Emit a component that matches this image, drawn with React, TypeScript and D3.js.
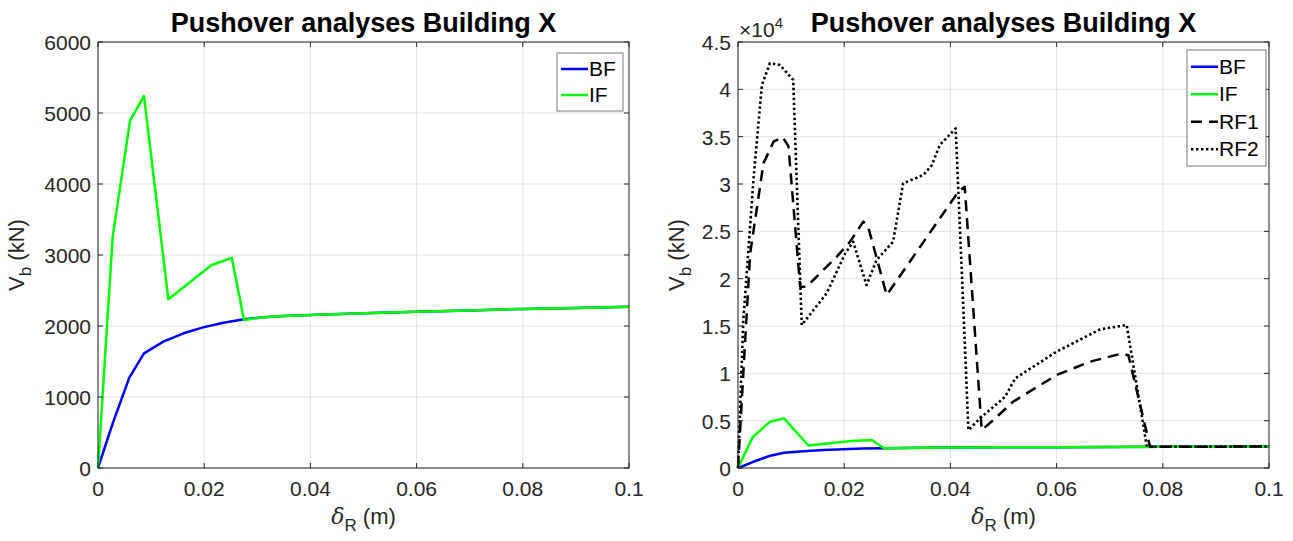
import React from "react";
import * as d3 from "d3";

// ---------- data ----------
const bfDelta = [0, 0.00277, 0.0059, 0.00866, 0.0123, 0.0161, 0.0198, 0.0236, 0.0275, 0.0311, 0.0349, 0.04, 0.05, 0.06, 0.07, 0.08, 0.09, 0.1];
const bfV = [0, 629, 1272, 1615, 1779, 1897, 1981, 2047, 2094, 2122, 2141, 2155, 2180, 2200, 2220, 2240, 2255, 2270];

const ifDelta = [0, 0.00277, 0.00603, 0.00866, 0.01325, 0.0214, 0.0252, 0.0275, 0.0311, 0.0349, 0.04, 0.05, 0.06, 0.07, 0.08, 0.09, 0.1];
const ifV = [0, 3258, 4892, 5239, 2376, 2859, 2958, 2085, 2122, 2141, 2155, 2180, 2200, 2220, 2240, 2255, 2270];

const rf1Delta = [0, 0.0012, 0.0023, 0.0048, 0.0067, 0.0084, 0.0095, 0.0117, 0.0129, 0.0186, 0.0211, 0.0236, 0.0245, 0.028, 0.0415, 0.0427, 0.0459, 0.0481, 0.0518, 0.06, 0.0663, 0.0719, 0.0735, 0.0776, 0.08, 0.09, 0.1];
const rf1V = [0, 12000, 22700, 32190, 34470, 34950, 34000, 19150, 19150, 22320, 23900, 26020, 25500, 18270, 29190, 29710, 4010, 5070, 7000, 9820, 11230, 12040, 11940, 2250, 2240, 2255, 2270];

const rf2Delta = [0, 0.001, 0.0016, 0.0029, 0.0045, 0.006, 0.0079, 0.0104, 0.012, 0.0167, 0.0202, 0.0217, 0.0242, 0.0261, 0.0292, 0.0311, 0.0349, 0.0365, 0.038, 0.041, 0.0434, 0.0456, 0.0503, 0.0522, 0.06, 0.0682, 0.0732, 0.077, 0.08, 0.09, 0.1];
const rf2V = [0, 15640, 20200, 30420, 40460, 42750, 42570, 40990, 15100, 18450, 22680, 23900, 19330, 21970, 23900, 30070, 30950, 32000, 34120, 35880, 4010, 5250, 7530, 9470, 12290, 14650, 15100, 2250, 2240, 2255, 2270];

const xTicks = [0, 0.02, 0.04, 0.06, 0.08, 0.1];
const xTickLabels = ["0", "0.02", "0.04", "0.06", "0.08", "0.1"];
const leftYTicks = [0, 1000, 2000, 3000, 4000, 5000, 6000];
const rightYTicks = [0, 5000, 10000, 15000, 20000, 25000, 30000, 35000, 40000, 45000];
const rightYTickLabels = ["0", "0.5", "1", "1.5", "2", "2.5", "3", "3.5", "4", "4.5"];

const titleText = "Pushover analyses Building X";

// ---------- styles ----------
const FONT = "'Liberation Sans', Arial, Helvetica, sans-serif";
const AX = "#262626";
const GRID = "#e3e3e3";
const TICK_FS = 21;
const LABEL_FS = 22;

type Series = { name: string; xs: number[]; ys: number[]; color: string; dash?: string; width: number };

const basicSeries: Series[] = [
  { name: "BF", xs: bfDelta, ys: bfV, color: "#0000ff", width: 2.5 },
  { name: "IF", xs: ifDelta, ys: ifV, color: "#00ff00", width: 2.5 },
];
const allSeries: Series[] = [
  ...basicSeries,
  { name: "RF1", xs: rf1Delta, ys: rf1V, color: "#000000", dash: "11,7", width: 2.5 },
  { name: "RF2", xs: rf2Delta, ys: rf2V, color: "#000000", dash: "2.4,2.6", width: 2.6 },
];

type PanelProps = {
  left: number; right: number; top: number; bottom: number;
  yMax: number; yTicks: number[]; yLabels: string[]; series: Series[];
  legend: { x: number; y: number; w: number; rowH: number };
  exponent?: boolean;
  ylabelX: number;
};

function Panel(p: PanelProps) {
  const x = d3.scaleLinear().domain([0, 0.1]).range([p.left, p.right]);
  const y = d3.scaleLinear().domain([0, p.yMax]).range([p.bottom, p.top]);
  const tick = 5;
  const cx = (p.left + p.right) / 2;
  const cy = (p.top + p.bottom) / 2;
  const mk = (s: Series) =>
    d3.line<number>().x((_, i) => x(s.xs[i])).y((d) => y(d))(s.ys) || "";
  return (
    <g>
      <rect x={p.left} y={p.top} width={p.right - p.left} height={p.bottom - p.top} fill="#fff" />
      {xTicks.map((t, i) => (
        <line key={"gx" + i} x1={x(t)} x2={x(t)} y1={p.top} y2={p.bottom} stroke={GRID} strokeWidth={1} />
      ))}
      {p.yTicks.map((t, i) => (
        <line key={"gy" + i} x1={p.left} x2={p.right} y1={y(t)} y2={y(t)} stroke={GRID} strokeWidth={1} />
      ))}
      {p.series.map((s) => (
        <path key={s.name} d={mk(s)} fill="none" stroke={s.color} strokeWidth={s.width}
          strokeDasharray={s.dash} strokeLinejoin="round" />
      ))}
      <rect x={p.left} y={p.top} width={p.right - p.left} height={p.bottom - p.top} fill="none" stroke={AX} strokeWidth={1} />
      {xTicks.map((t, i) => (
        <g key={"tx" + i}>
          <line x1={x(t)} x2={x(t)} y1={p.bottom} y2={p.bottom - tick} stroke={AX} />
          <line x1={x(t)} x2={x(t)} y1={p.top} y2={p.top + tick} stroke={AX} />
          <text x={x(t)} y={p.bottom + 28} textAnchor="middle" fontSize={TICK_FS} fill={AX} fontFamily={FONT}>{xTickLabels[i]}</text>
        </g>
      ))}
      {p.yTicks.map((t, i) => (
        <g key={"ty" + i}>
          <line x1={p.left} x2={p.left + tick} y1={y(t)} y2={y(t)} stroke={AX} />
          <line x1={p.right} x2={p.right - tick} y1={y(t)} y2={y(t)} stroke={AX} />
          <text x={p.left - 7} y={y(t) + 8} textAnchor="end" fontSize={TICK_FS} fill={AX} fontFamily={FONT}>{p.yLabels[i]}</text>
        </g>
      ))}
      {p.exponent && (
        <text x={p.left + 1} y={p.top - 5} fontSize={TICK_FS} fill={AX} fontFamily={FONT}>
          ×10<tspan dy={-9} fontSize={15}>4</tspan>
        </text>
      )}
      <text x={cx} y={32} textAnchor="middle" fontSize={27} fontWeight="bold" fill="#000" fontFamily={FONT}>{titleText}</text>
      <text x={cx} y={p.bottom + 56} textAnchor="middle" fontSize={LABEL_FS} fill={AX} fontFamily={FONT}>
        <tspan fontFamily="'DejaVu Serif', serif" fontStyle="italic">δ</tspan>
        <tspan dy={7} fontSize={17}>R</tspan>
        <tspan dy={-7}> (m)</tspan>
      </text>
      <text transform={`translate(${p.ylabelX},${cy}) rotate(-90)`} textAnchor="middle" fontSize={LABEL_FS} fill={AX} fontFamily={FONT}>
        V<tspan dy={7} fontSize={17}>b</tspan><tspan dy={-7}> (kN)</tspan>
      </text>
      <g>
        <rect x={p.legend.x} y={p.legend.y} width={p.legend.w} height={p.legend.rowH * p.series.length + 6}
          fill="#fff" stroke="#7a7a7a" strokeWidth={1} />
        {p.series.map((s, i) => {
          const ly = p.legend.y + 3 + p.legend.rowH * (i + 0.5);
          return (
            <g key={"lg" + s.name}>
              <line x1={p.legend.x + 4} x2={p.legend.x + 31} y1={ly} y2={ly} stroke={s.color}
                strokeWidth={s.width} strokeDasharray={s.dash} />
              <text x={p.legend.x + 32} y={ly + 7} fontSize={TICK_FS} fill="#000" fontFamily={FONT}>{s.name}</text>
            </g>
          );
        })}
      </g>
    </g>
  );
}

export default function App() {
  return (
    <svg width={1293} height={541} style={{ display: "block", position: "absolute", left: 0, top: 0 }}>
      <rect width={1293} height={541} fill="#fff" />
      <Panel left={98} right={629} top={42} bottom={468} yMax={6000} yTicks={leftYTicks}
        yLabels={leftYTicks.map(String)} series={basicSeries}
        legend={{ x: 557, y: 53, w: 66, rowH: 26 }} ylabelX={24} />
      <Panel left={738} right={1269} top={42} bottom={468} yMax={45000} yTicks={rightYTicks}
        yLabels={rightYTickLabels} series={allSeries}
        legend={{ x: 1187, y: 50, w: 79, rowH: 27.5 }} exponent ylabelX={684} />
    </svg>
  );
}
